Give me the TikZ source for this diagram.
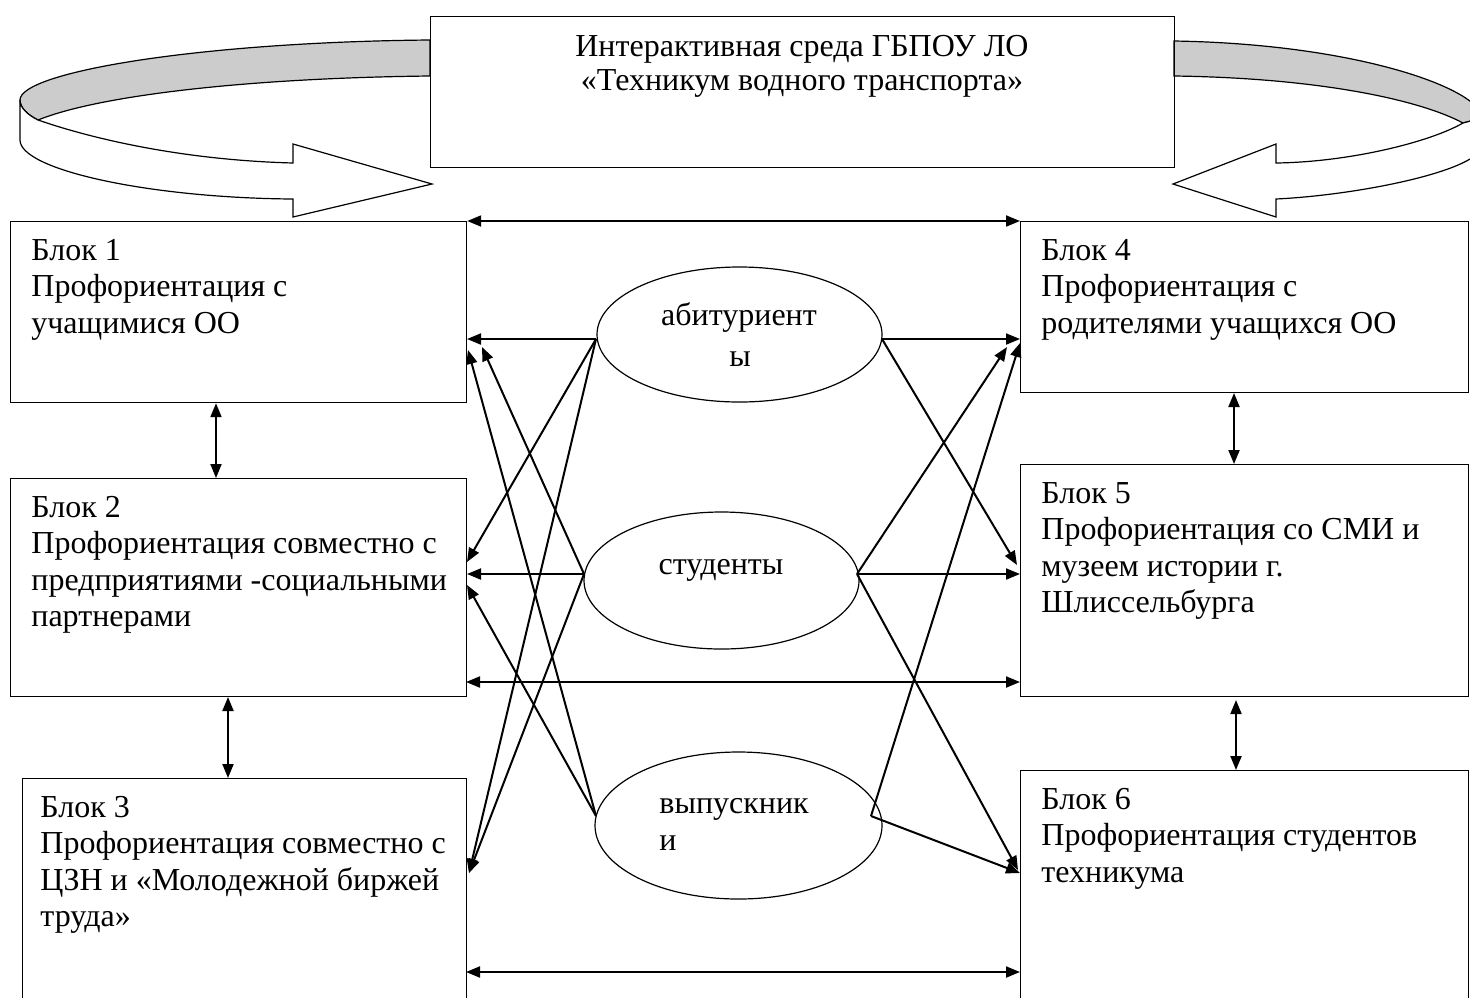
\documentclass[tikz,border=0pt]{standalone}
\usepackage{fontspec}
\setmainfont{Liberation Serif}
\usetikzlibrary{arrows.meta,shapes.geometric}
\begin{document}
\begin{tikzpicture}[x=0.5pt,y=-0.5pt,
  box/.style={draw,line width=0.6pt,inner sep=0pt,anchor=north west},
  ell/.style={draw,ellipse,line width=0.6pt,inner sep=0pt},
  txt/.style={inner sep=0pt,font=\fontsize{16}{18.3}\selectfont},
  arr/.style={line width=1pt,-{Triangle[length=7pt,width=5.5pt]}},
  darr/.style={line width=1pt,{Triangle[length=7pt,width=5.5pt]}-{Triangle[length=7pt,width=5.5pt]}},
  band/.style={line width=0.6pt,line join=miter}]
\useasboundingbox (0,0) rectangle (1470,997);
\clip (0,0) rectangle (1470,997);

% curved arrows
\filldraw[band,fill=black!20] (430,40) .. controls (200,42) and (20,72) .. (20,100)
  .. controls (20,108) and (28,115) .. (38,120)
  .. controls (100,95) and (250,78) .. (430,76) -- cycle;
\filldraw[band,fill=white] (20,100) -- (20,140) .. controls (20,170) and (150,198) .. (293,199)
  -- (293,217) -- (432,184) -- (293,144) -- (293,163)
  .. controls (180,160) and (90,138) .. (38,120)
  .. controls (28,115) and (20,108) .. (20,100) -- cycle;
\filldraw[band,fill=black!20] (1174,41) .. controls (1360,44) and (1482,90) .. (1482,118)
  -- (1463,123) .. controls (1420,100) and (1320,78) .. (1174,76) -- cycle;
\filldraw[band,fill=white] (1463,123) .. controls (1430,142) and (1350,162) .. (1276,163)
  -- (1276,144) -- (1173,184) -- (1276,217) -- (1276,199)
  .. controls (1360,195) and (1482,170) .. (1482,145) -- (1482,118) -- cycle;

% boxes
\node[box,minimum width=372pt,minimum height=75.5pt] (top) at (430,16) {};
\node[box,minimum width=228pt,minimum height=90.5pt] (b1) at (10,221) {};
\node[box,minimum width=228pt,minimum height=109pt] (b2) at (10,478) {};
\node[box,minimum width=222pt,minimum height=111pt] (b3) at (22,778) {};
\node[box,minimum width=224pt,minimum height=85.5pt] (b4) at (1020,221) {};
\node[box,minimum width=224pt,minimum height=116pt] (b5) at (1020,464) {};
\node[box,minimum width=224pt,minimum height=115pt] (b6) at (1020,770) {};

% texts
\node[txt,anchor=base] (topT1) at (802,56) {Интерактивная среда ГБПОУ ЛО};
\node[txt,anchor=base] (topT2) at (802,90) {«Техникум водного транспорта»};
\node[txt,anchor=base west] (t1) at (31,260) {\begin{tabular}[t]{@{}l@{}}Блок 1\\Профориентация с\\учащимися ОО\end{tabular}};
\node[txt,anchor=base west] (t2) at (31,517) {\begin{tabular}[t]{@{}l@{}}Блок 2\\Профориентация совместно с\\предприятиями -социальными\\партнерами\end{tabular}};
\node[txt,anchor=base west] (t3) at (40,817) {\begin{tabular}[t]{@{}l@{}}Блок 3\\Профориентация совместно с\\ЦЗН и «Молодежной биржей\\труда»\end{tabular}};
\node[txt,anchor=base west] (t4) at (1041,260) {\begin{tabular}[t]{@{}l@{}}Блок 4\\Профориентация с\\родителями учащихся ОО\end{tabular}};
\node[txt,anchor=base west] (t5) at (1041,503) {\begin{tabular}[t]{@{}l@{}}Блок 5\\Профориентация со СМИ и\\музеем истории г.\\Шлиссельбурга\end{tabular}};
\node[txt,anchor=base west] (t6) at (1041,809) {\begin{tabular}[t]{@{}l@{}}Блок 6\\Профориентация студентов\\техникума\end{tabular}};

% ellipses
\node[ell,minimum width=142.5pt,minimum height=67.5pt] (abit) at (739.5,334.5) {};
\node[ell,minimum width=137.5pt,minimum height=68.5pt] (stud) at (721.5,580.5) {};
\node[ell,minimum width=143.5pt,minimum height=73.5pt] (vyp) at (738.5,825.5) {};
\node[txt,anchor=base] (abitT1) at (739,325) {абитуриент};
\node[txt,anchor=base] (abitT2) at (740,366) {ы};
\node[txt,anchor=base] (studT) at (721,574) {студенты};
\node[txt,anchor=base west] (vypT1) at (659,813) {выпускник};
\node[txt,anchor=base west] (vypT2) at (659,850) {и};

% connection points
\coordinate (aL) at (596,339); \coordinate (aR) at (882,339);
\coordinate (sL) at (584,574); \coordinate (sR) at (857,574);
\coordinate (vL) at (596,816); \coordinate (vR) at (871,816);
\coordinate (t1a) at (467,339); \coordinate (t1s) at (482,347); \coordinate (t1v) at (468,350);
\coordinate (t2a) at (467,562); \coordinate (t2s) at (467,574); \coordinate (t2v) at (467,585);
\coordinate (t3a) at (469,873);
\coordinate (t4a) at (1020,339); \coordinate (t4s) at (1007,347); \coordinate (t4v) at (1020,343);
\coordinate (t5a) at (1017,565); \coordinate (t5s) at (1020,574);
\coordinate (t6s) at (1018,870); \coordinate (t6v) at (1020,873);

% left connectors
\draw[arr] (aL) -- (t1a);
\draw[arr] (aL) -- (t2a);
\draw[arr] (aL) -- (t3a);
\draw[arr] (sL) -- (t2s);
\draw[arr] (sL) -- (t1s);
\draw[arr] (sL) -- (t3a);
\draw[arr] (vL) -- (t1v);
\draw[arr] (vL) -- (t2v);
% right connectors
\draw[arr] (aR) -- (t4a);
\draw[arr] (aR) -- (t5a);
\draw[arr] (sR) -- (t5s);
\draw[arr] (sR) -- (t4s);
\draw[arr] (sR) -- (t6s);
\draw[arr] (vR) -- (t4v);
\draw[arr] (vR) -- (t6v);

% double arrows between blocks
\draw[darr] (b1.north east) -- (b4.north west);
\draw[darr] (466,682) coordinate (h2a) -- (1020,682) coordinate (h2b);
\draw[darr] (466,972) coordinate (h3a) -- (1020,972) coordinate (h3b);
\draw[darr] (b1.south -| 216,0) -- (b2.north -| 216,0);
\draw[darr] (228,697) coordinate (v2a) -- (b3.north -| 228,0);
\draw[darr] (1234,393) coordinate (v4a) -- (b5.north -| 1234,0);
\draw[darr] (1236,700) coordinate (v5a) -- (b6.north -| 1236,0);
\end{tikzpicture}
\end{document}
